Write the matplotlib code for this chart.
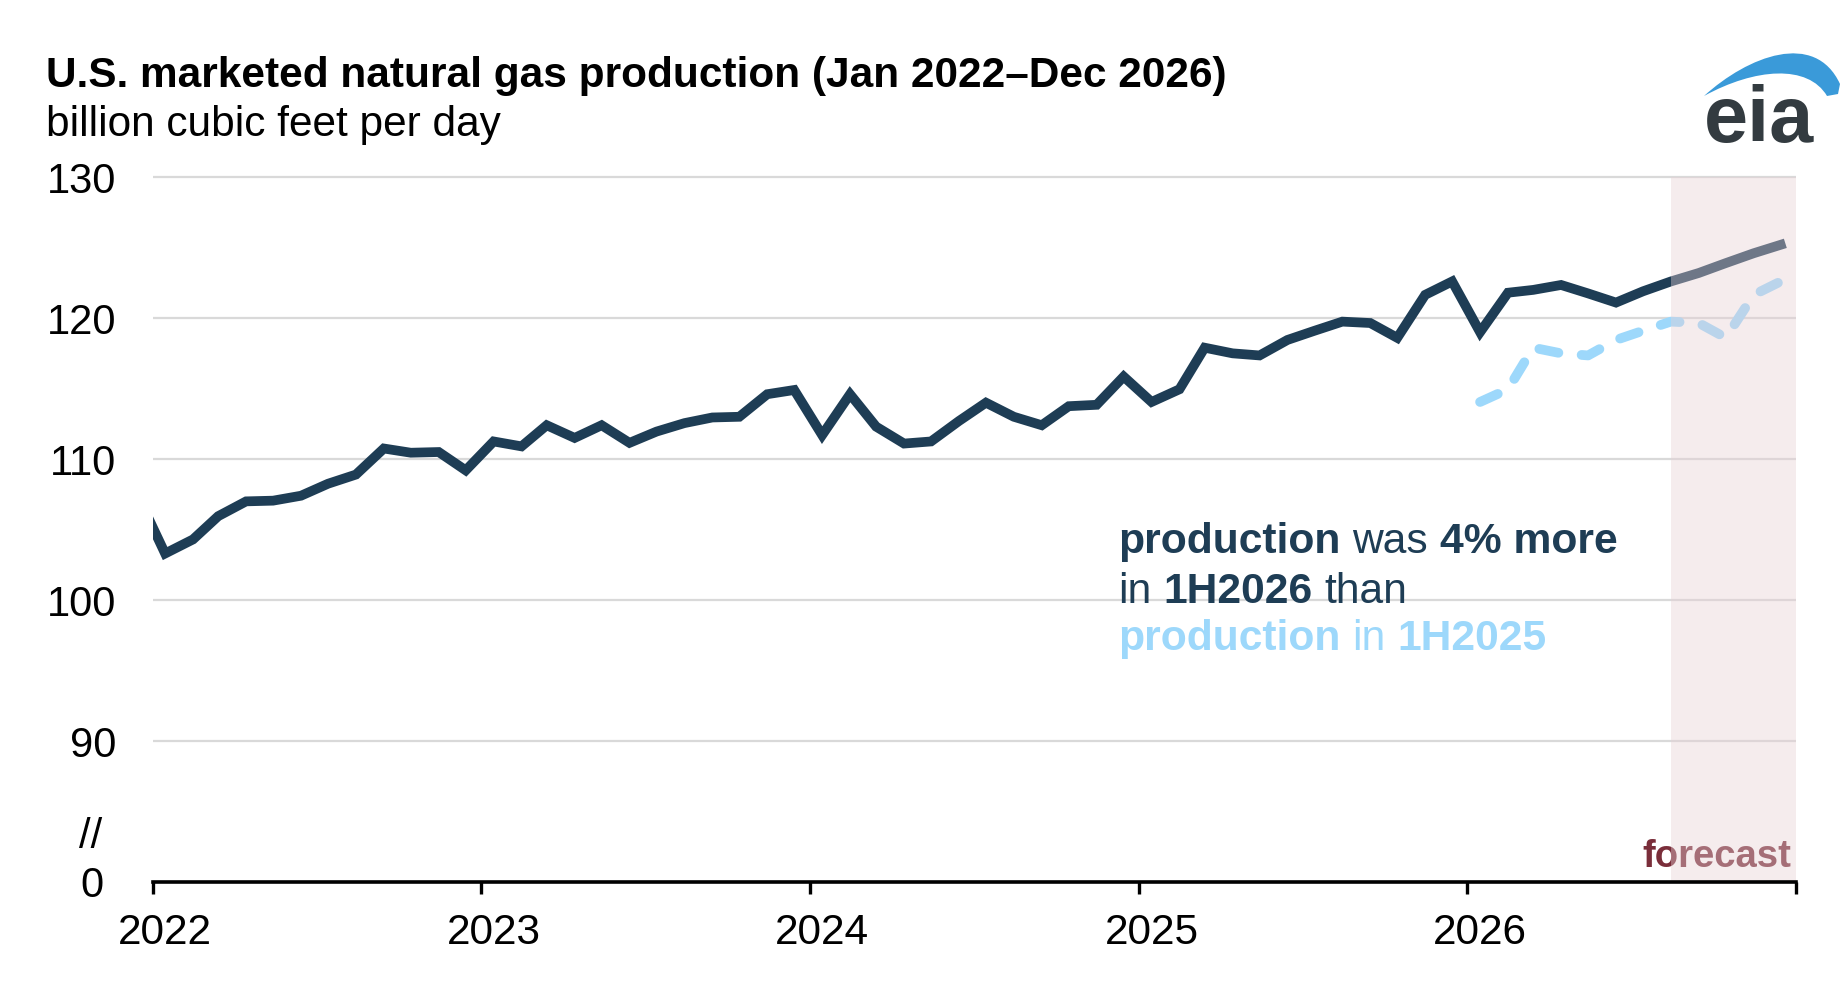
import pandas as pd
import matplotlib
matplotlib.use("Agg")
import matplotlib.pyplot as plt
import matplotlib.dates as mdates
from matplotlib.path import Path
from matplotlib.patches import PathPatch

plt.rcParams['font.family'] = ['Liberation Sans', 'DejaVu Sans']

# monthly marketed gas production, Dec 2021 - Dec 2026 (Bcf/d)
production = [
    107.5,
    103.3, 104.3, 105.95, 107.0, 107.05, 107.4, 108.25, 108.9, 110.75, 110.45, 110.5, 109.2,
    111.25, 110.9, 112.4, 111.5, 112.4, 111.15, 111.95, 112.55, 112.95, 113.0, 114.6, 114.9,
    111.7, 114.6, 112.3, 111.1, 111.25, 112.7, 114.0, 113.0, 112.4, 113.75, 113.85, 115.85,
    114.05, 114.95, 117.9, 117.5, 117.35, 118.45, 119.1, 119.75, 119.65, 118.6, 121.65, 122.6,
    119.0, 121.8, 122.0, 122.35, 121.75, 121.1, 121.9, 122.6, 123.2, 123.9, 124.6, 125.2,
]
# 2025 production, plotted against the 2026 months
prior_year = [114.05, 114.95, 117.9, 117.5, 117.35, 118.45, 119.1, 119.75, 119.65, 118.6, 121.65, 122.6]

months = pd.date_range("2021-12-01", "2026-12-01", freq="MS") + pd.Timedelta(days=14)
months_2026 = pd.date_range("2026-01-01", "2026-12-01", freq="MS") + pd.Timedelta(days=14)
forecast_start = pd.Timestamp("2026-08-15")
years = [2022, 2023, 2024, 2025, 2026]
y_ticks = [80, 90, 100, 110, 120, 130]
y_labels = ["", "90", "100", "110", "120", "130"]

NAVY = "#1e3d55"
LIGHT = "#9dd8fb"
MAROON = "#7a2e3a"

W, H = 1843, 984
fig = plt.figure(figsize=(W / 100, H / 100), dpi=100)
ax = fig.add_axes([152.5 / W, 1 - 882 / H, (1796 - 152.5) / W, (882 - 175) / H])

ax.plot(months, production, color=NAVY, lw=7, solid_joinstyle="miter", zorder=2)
ax.plot(months_2026, prior_year, color=LIGHT, lw=7, dashes=(2, 2.4),
        dash_capstyle="round", zorder=2)

# forecast overlay sits on top of the lines
ax.fill_between([forecast_start, pd.Timestamp("2027-01-01")], 80, 130,
                color="#e8d0d4", alpha=0.4, lw=0, zorder=3)

ax.set_xlim(pd.Timestamp("2022-01-01"), pd.Timestamp("2027-01-01"))
ax.set_ylim(80, 130.15)

ax.set_yticks(y_ticks)
ax.set_yticklabels(y_labels)
ax.tick_params(axis="y", length=0, pad=26, labelsize=30)
ax.set_axisbelow(True)
ax.yaxis.grid(True, color="#d9d9d9", lw=1.6)

ax.xaxis.set_major_locator(mdates.YearLocator())
ax.xaxis.set_major_formatter(plt.NullFormatter())
ax.set_xticks([pd.Timestamp(f"{y}-01-15") for y in years], minor=True)
ax.set_xticklabels([str(y) for y in years], minor=True)
ax.tick_params(axis="x", which="major", length=8.5, width=2.4, direction="out")
ax.tick_params(axis="x", which="minor", length=0, pad=22, labelsize=30.5)

for s in ["top", "right", "left"]:
    ax.spines[s].set_visible(False)
ax.spines["bottom"].set_linewidth(2.6)
ax.spines["bottom"].set_zorder(5)

# broken-axis zero label
ax.text(91.5 / W, 1 - 897 / H, "0", transform=fig.transFigure, fontsize=30,
        ha="center", va="baseline")
ax.text(91 / W, 1 - 848 / H, "//", transform=fig.transFigure, fontsize=30,
        ha="center", va="baseline")

ax.text(1791 / W, 1 - 867 / H, "forecast", transform=fig.transFigure, fontsize=27.5,
        fontweight="bold", color=MAROON, ha="right", va="baseline", zorder=2.5)

fig.text(46 / W, 1 - 87 / H, "U.S. marketed natural gas production (Jan 2022\u2013Dec 2026)",
         fontsize=30.5, fontweight="bold", va="baseline")
fig.text(46 / W, 1 - 136 / H, "billion cubic feet per day", fontsize=30.5, va="baseline")

# annotation with mixed weights / colours
renderer = fig.canvas.get_renderer()
fs = 30.7
space = fs * 100 / 72 * 0.278
lines = [
    (553, [("production", "bold", NAVY), ("was", "normal", NAVY), ("4% more", "bold", NAVY)]),
    (603, [("in", "normal", NAVY), ("1H2026", "bold", NAVY), ("than", "normal", NAVY)]),
    (650, [("production", "bold", LIGHT), ("in", "normal", LIGHT), ("1H2025", "bold", LIGHT)]),
]
for base, parts in lines:
    x = 1118
    for s, w, c in parts:
        t = fig.text(x / W, 1 - base / H, s, fontsize=fs, fontweight=w, color=c, va="baseline")
        x += t.get_window_extent(renderer).width + space

# eia logo
fig.text(1704 / W, 1 - 141.7 / H, "eia", fontsize=57, fontweight="bold", color="#333b40",
         va="baseline")
arc = [(1704, 96), (1748, 56), (1815, 30), (1840, 84),
       (1838, 94), (1827, 96),
       (1808, 64), (1755, 68), (1704, 96), (1704, 96)]
codes = [Path.MOVETO, Path.CURVE4, Path.CURVE4, Path.CURVE4,
         Path.LINETO, Path.LINETO,
         Path.CURVE4, Path.CURVE4, Path.CURVE4, Path.CLOSEPOLY]
verts = [(px / W, 1 - py / H) for px, py in arc]
fig.patches.append(PathPatch(Path(verts, codes), transform=fig.transFigure,
                             facecolor="#3a9ad9", edgecolor="none"))

fig.savefig("out.png", dpi=100)
